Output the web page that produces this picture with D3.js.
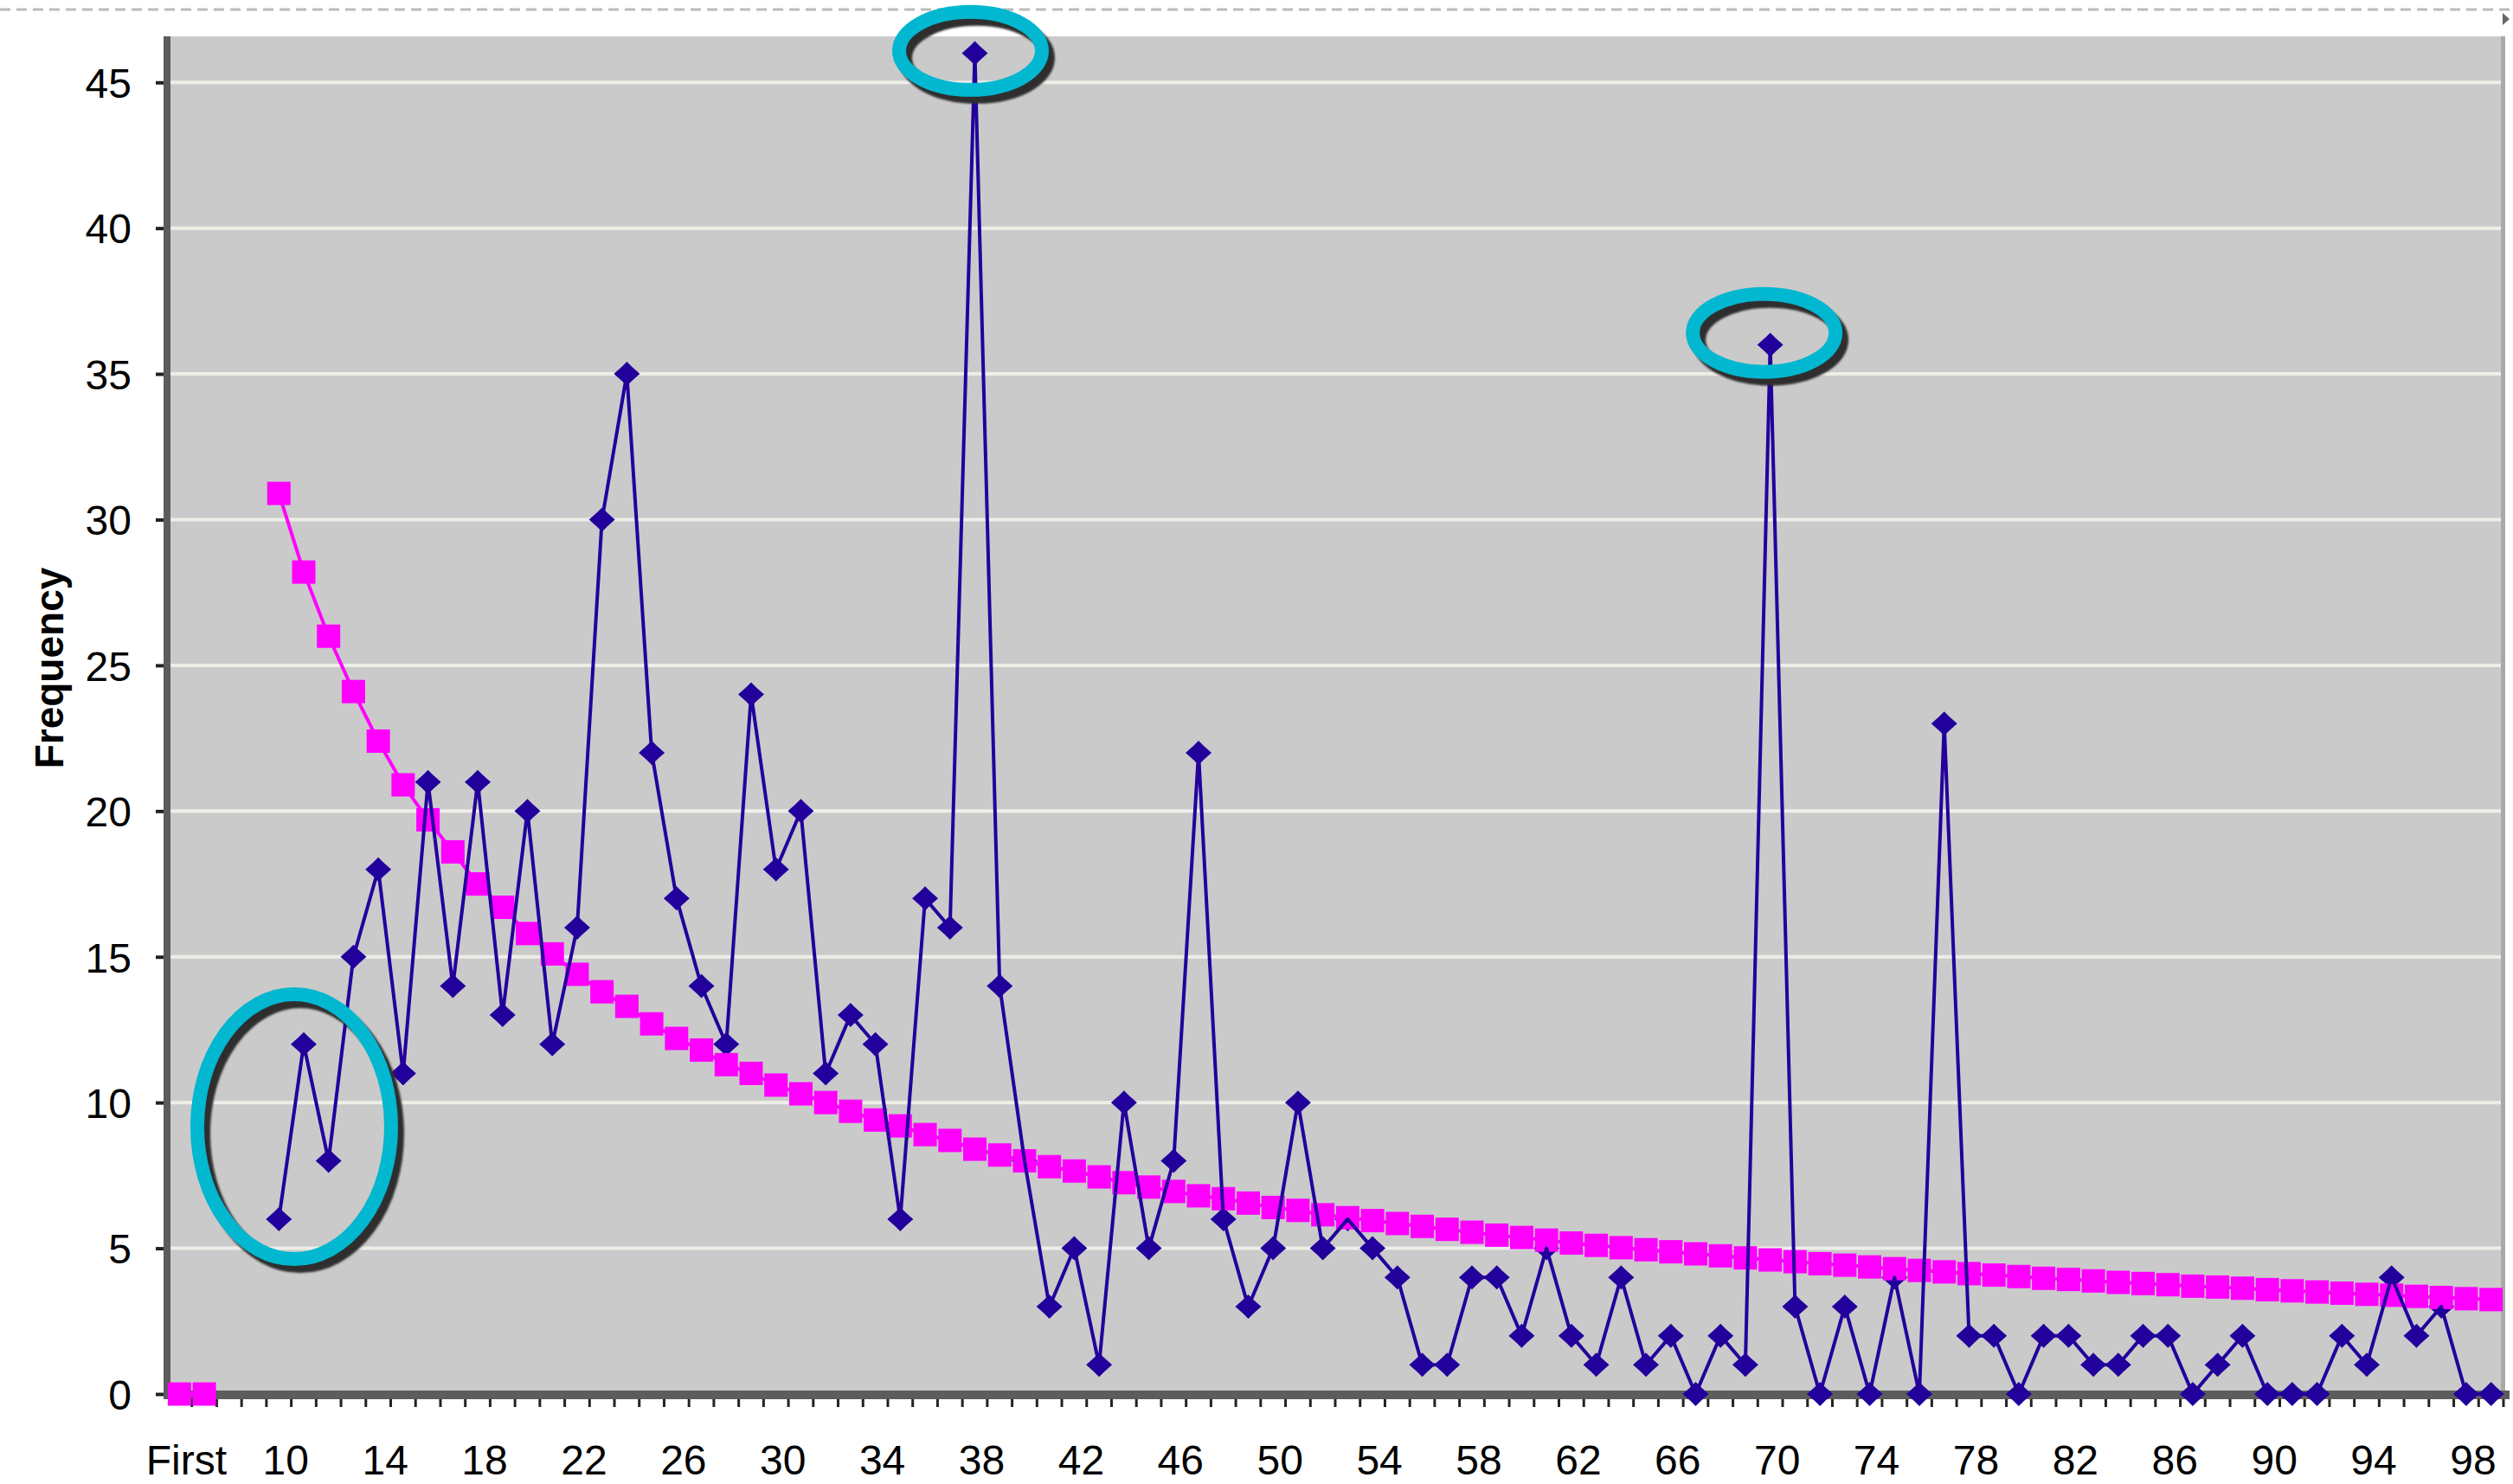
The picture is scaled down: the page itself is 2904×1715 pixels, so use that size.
<!DOCTYPE html>
<html><head><meta charset="utf-8">
<script src="https://cdn.jsdelivr.net/npm/d3@7"></script>
<style>html,body{margin:0;padding:0;background:#fff;} svg{display:block}</style>
</head><body>
<script>
// ---- data ----
const categories = ["First","7","8","9","10","11","12","13","14","15","16","17","18","19","20","21","22","23","24","25","26","27","28","29","30","31","32","33","34","35","36","37","38","39","40","41","42","43","44","45","46","47","48","49","50","51","52","53","54","55","56","57","58","59","60","61","62","63","64","65","66","67","68","69","70","71","72","73","74","75","76","77","78","79","80","81","82","83","84","85","86","87","88","89","90","91","92","93","94","95","96","97","98","99"];
const observed = [null,null,null,null,
  6,12,8,15,18,11,21,14,21,13,
  20,12,16,30,35,22,17,14,12,24,
  18,20,11,13,12,6,17,16,46,14,
  8,3,5,1,10,5,8,22,6,3,
  5,10,5,6,5,4,1,1,4,4,
  2,5,2,1,4,1,2,0,2,1,
  36,3,0,3,0,4,0,23,2,2,
  0,2,2,1,1,2,2,0,1,2,
  0,0,0,2,1,4,2,3,0,0];
const expected = [0,0,null,null,
  30.9,28.2,26.0,24.1,22.4,20.9,19.7,18.6,17.5,16.7,
  15.8,15.1,14.4,13.8,13.3,12.7,12.2,11.8,11.3,11.0,
  10.6,10.3,10.0,9.7,9.4,9.2,8.9,8.7,8.4,8.2,
  8.0,7.8,7.65,7.45,7.25,7.1,6.95,6.8,6.7,6.55,
  6.4,6.3,6.15,6.05,5.95,5.85,5.75,5.65,5.55,5.45,
  5.37,5.28,5.18,5.1,5.02,4.95,4.88,4.81,4.74,4.67,
  4.6,4.54,4.47,4.42,4.36,4.3,4.24,4.19,4.13,4.08,
  4.03,3.97,3.93,3.88,3.83,3.79,3.75,3.7,3.67,3.63,
  3.58,3.54,3.5,3.46,3.42,3.39,3.35,3.31,3.27,3.24];
const yTicks = [0,5,10,15,20,25,30,35,40,45];
const xTickLabels = categories.filter((c,i)=>i%4===0);
const yTitle = "Frequency";
const highlights = [
  {cat:"38", value:46.05},
  {cat:"70", value:36.2},
  {cat:"11", value:9.17}
];

// ---- chart ----
const W=2904, H=1715;
const svg = d3.select("body").append("svg").attr("width",W).attr("height",H);

const x = d3.scaleBand().domain(categories).range([193,2893]).padding(0);
const xc = c => x(c) + x.bandwidth()/2;
const y = d3.scaleLinear().domain([0,46.58]).range([1611,42]);

const plotL = 197, plotR = 2890, plotT = 42, plotB = 1607;

// top dashed frame line
svg.append("line").attr("x1",0).attr("x2",W).attr("y1",11).attr("y2",11)
  .attr("stroke","#BBBBBB").attr("stroke-width",3).attr("stroke-dasharray","12 7");
svg.append("path").attr("d","M2892,15L2900,22L2892,29Z").attr("fill","#666");

// plot background
svg.append("rect").attr("x",plotL).attr("y",plotT).attr("width",plotR-plotL).attr("height",plotB-plotT)
  .attr("fill","#CACACA");

// gridlines
svg.append("g").selectAll("line").data(yTicks.filter(v=>v>0)).join("line")
  .attr("x1",plotL).attr("x2",plotR).attr("y1",d=>y(d)).attr("y2",d=>y(d))
  .attr("stroke","#EEEEE8").attr("stroke-width",4);

// right border
svg.append("rect").attr("x",plotR).attr("y",plotT).attr("width",5).attr("height",plotB-plotT).attr("fill","#A9A9A9");

// y axis
const yAxis = svg.append("g").attr("transform","translate(189,0)")
  .call(d3.axisLeft(y).tickValues(yTicks).tickSize(9).tickPadding(28));
yAxis.select(".domain").remove();
yAxis.selectAll(".tick line").attr("stroke","#222").attr("stroke-width",4);
yAxis.selectAll(".tick text").attr("font-family","'Liberation Sans', Arial, sans-serif")
  .attr("font-size",48).attr("fill","#000").attr("dy","0.36em");
svg.append("rect").attr("x",189).attr("y",plotT).attr("width",8).attr("height",1617-plotT).attr("fill","#5C5C5C");

// x axis line
svg.append("rect").attr("x",189).attr("y",1607).attr("width",2900-189).attr("height",10).attr("fill","#5C5C5C");
// category boundary ticks
svg.append("g").selectAll("line").data(categories.slice(1).map(c=>x(c)).concat([x(categories[categories.length-1])+x.bandwidth()]))
  .join("line").attr("x1",d=>d).attr("x2",d=>d).attr("y1",1617).attr("y2",1626)
  .attr("stroke","#222").attr("stroke-width",3);

// x labels
const xAxis = svg.append("g").attr("transform","translate(0,1611)")
  .call(d3.axisBottom(x).tickValues(xTickLabels).tickSize(0));
xAxis.select(".domain").remove();
xAxis.selectAll(".tick text").attr("font-family","'Liberation Sans', Arial, sans-serif")
  .attr("font-size",48).attr("fill","#000").attr("y",93).attr("dy",0).attr("dx",8);

// y title
svg.append("text").attr("transform","translate(73,772) rotate(-90)")
  .attr("text-anchor","middle").attr("font-family","'Liberation Sans', Arial, sans-serif")
  .attr("font-weight","bold").attr("font-size",46).attr("fill","#000").text(yTitle);

const obsData = categories.map((c,i)=>({c, v: observed[i]}));
const expData = categories.map((c,i)=>({c, v: expected[i]}));
const blue = "#22009C", mag = "#FF00FF";

// blue markers (under magenta)
svg.append("g").selectAll("path").data(obsData.filter(d=>d.v!=null)).join("path")
  .attr("d","M0,-14L6,-8L15,0L6,8L0,14L-6,8L-15,0L-6,-8Z")
  .attr("transform",d=>`translate(${xc(d.c)},${y(d.v)})`).attr("fill",blue);

// magenta line + squares
const line = d3.line().defined(d=>d.v!=null).x(d=>xc(d.c)).y(d=>y(d.v));
svg.append("path").datum(expData).attr("d",line).attr("fill","none").attr("stroke",mag).attr("stroke-width",4);
svg.append("g").selectAll("rect").data(expData.filter(d=>d.v!=null)).join("rect")
  .attr("x",d=>xc(d.c)-13.5).attr("y",d=>y(d.v)-13.5).attr("width",27).attr("height",27).attr("fill",mag);

// blue line
svg.append("path").datum(obsData).attr("d",line).attr("fill","none").attr("stroke",blue)
  .attr("stroke-width",4).attr("stroke-linejoin","round");

// highlight ellipses
const defs = svg.append("defs");
defs.append("filter").attr("id","soft").append("feGaussianBlur").attr("stdDeviation",1.2);
const ell = [
  {rx:82.5, ry:45, dx:-5, dy:-1},
  {rx:82.5, ry:45, dx:-7, dy:-7},
  {rx:112, ry:153, dx:-11, dy:0}
];
const hg = svg.append("g");
highlights.forEach((h,i)=>{
  const cx0 = xc(h.cat)+ell[i].dx, cy0 = y(h.value)+ell[i].dy;
  hg.append("ellipse").attr("cx",cx0+7).attr("cy",cy0+8).attr("rx",ell[i].rx).attr("ry",ell[i].ry)
    .attr("fill","none").attr("stroke","#2E2E2E").attr("stroke-width",16).attr("filter","url(#soft)");
  hg.append("ellipse").attr("cx",cx0).attr("cy",cy0).attr("rx",ell[i].rx).attr("ry",ell[i].ry)
    .attr("fill","none").attr("stroke","#02B7D0").attr("stroke-width",16);
});
</script>
</body></html>
